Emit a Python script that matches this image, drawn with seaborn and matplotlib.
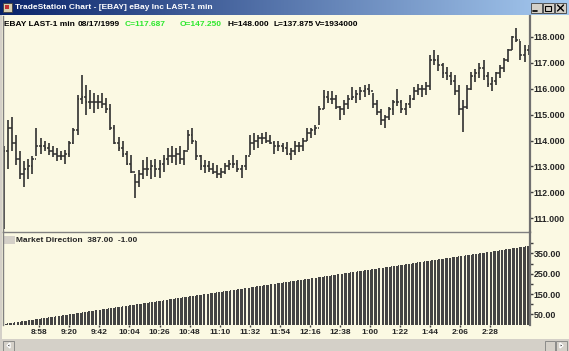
import numpy as np
import matplotlib
matplotlib.use("Agg")
import matplotlib.pyplot as plt
from matplotlib.colors import LinearSegmentedColormap
from matplotlib.patches import Rectangle, Polygon
import seaborn as sns

highs = [113.8, 114.8, 114.9, 114.2, 113.6, 113.2, 113.3, 113.4, 114.5, 114.1,
         114.0, 113.9, 113.8, 113.7, 113.6, 113.65, 114.0, 114.5, 115.75, 116.55,
         116.15, 115.95, 115.85, 115.75, 115.85, 115.65, 115.4, 114.6, 114.15, 114.0,
         113.6, 113.45, 112.7, 112.85, 113.25, 113.35, 113.25, 113.3, 113.25, 113.45,
         113.7, 113.8, 113.7, 113.8, 113.65, 114.4, 114.5, 114.0, 113.45, 113.25,
         113.2, 113.15, 113.05, 112.95, 113.15, 113.25, 113.45, 113.25, 113.05, 113.45,
         114.2, 114.3, 114.2, 114.3, 114.35, 114.2, 114.0, 114.0, 113.9, 113.95,
         113.7, 114.0, 113.95, 114.1, 114.5, 114.5, 114.6, 115.35, 115.95, 115.9,
         115.9, 115.75, 115.35, 115.55, 115.75, 116.05, 115.95, 116.05, 116.15, 116.2,
         115.85, 115.55, 115.2, 115.0, 115.3, 115.55, 116.0, 115.55, 115.45, 115.75,
         116.05, 116.2, 116.15, 116.25, 117.3, 117.5, 117.3, 117.0, 116.85, 116.65,
         116.55, 116.15, 115.55, 116.15, 116.65, 116.75, 117.0, 117.1, 116.65, 116.45,
         116.65, 116.9, 117.2, 117.55, 118.05, 118.35, 117.85, 117.7, 117.7]
lows = [110.6, 112.9, 113.6, 113.05, 112.5, 112.2, 112.5, 112.7, 113.4, 113.5,
        113.6, 113.45, 113.35, 113.2, 113.25, 113.1, 113.35, 113.85, 114.2, 115.4,
        115.0, 115.2, 115.05, 115.2, 115.25, 115.05, 114.4, 113.85, 113.6, 113.35,
        113.05, 112.75, 111.8, 112.2, 112.5, 112.65, 112.5, 112.6, 112.55, 112.8,
        113.05, 113.15, 113.05, 113.1, 113.05, 113.65, 113.85, 113.25, 112.85, 112.75,
        112.8, 112.7, 112.55, 112.55, 112.7, 112.85, 112.95, 112.8, 112.55, 112.85,
        113.45, 113.65, 113.7, 113.85, 113.9, 113.85, 113.5, 113.6, 113.55, 113.45,
        113.25, 113.45, 113.55, 113.6, 114.0, 114.1, 114.2, 114.6, 115.2, 115.45,
        115.4, 115.2, 114.8, 115.0, 115.2, 115.55, 115.45, 115.55, 115.7, 115.75,
        115.25, 115.0, 114.6, 114.5, 114.8, 115.0, 115.35, 115.05, 115.0, 115.25,
        115.55, 115.75, 115.7, 115.75, 115.95, 116.9, 116.7, 116.4, 116.35, 116.15,
        115.75, 115.0, 114.35, 115.2, 115.95, 116.25, 116.4, 116.35, 116.05, 115.9,
        116.15, 116.4, 116.65, 117.05, 117.5, 117.8, 117.1, 117.05, 117.3]
closes = [113.6, 114.5, 113.9, 113.3, 112.7, 112.9, 113.0, 113.3, 113.8, 113.8,
          113.7, 113.6, 113.5, 113.4, 113.4, 113.5, 113.9, 114.4, 115.6, 115.7,
          115.5, 115.5, 115.5, 115.5, 115.4, 115.2, 114.5, 113.9, 113.7, 113.5,
          113.1, 112.8, 112.4, 112.7, 112.9, 112.9, 113.0, 112.9, 113.1, 113.3,
          113.4, 113.4, 113.5, 113.3, 113.6, 114.2, 114.0, 113.4, 113.0, 113.0,
          112.9, 112.8, 112.7, 112.8, 113.0, 113.1, 113.1, 112.9, 113.0, 113.4,
          113.9, 114.0, 114.1, 114.1, 114.0, 113.9, 113.8, 113.8, 113.7, 113.5,
          113.6, 113.8, 113.8, 114.0, 114.3, 114.4, 114.5, 115.2, 115.7, 115.6,
          115.6, 115.3, 115.2, 115.4, 115.6, 115.7, 115.8, 115.9, 116.0, 115.9,
          115.4, 115.1, 114.8, 114.9, 115.2, 115.5, 115.5, 115.2, 115.4, 115.6,
          115.9, 116.0, 116.0, 116.1, 117.1, 117.1, 116.9, 116.6, 116.5, 116.3,
          115.9, 115.2, 115.3, 116.0, 116.5, 116.6, 116.8, 116.5, 116.2, 116.3,
          116.6, 116.8, 117.1, 117.5, 118.0, 117.9, 117.3, 117.5, 117.687]
first_open = 112.0

# Market Direction just counts the 1-minute bars (last value 387)
market_direction = np.arange(1, 388)

time_labels = ["8:58", "9:20", "9:42", "10:04", "10:26", "10:48", "11:10", "11:32",
               "11:54", "12:16", "12:38", "1:00", "1:22", "1:44", "2:06", "2:28"]
time_ticks = [28, 50, 72, 94, 116, 138, 160, 182, 204, 226, 248, 270, 292, 314, 336, 358]
price_ticks = [111, 112, 113, 114, 115, 116, 117, 118]
md_ticks = [50, 150, 250, 350]
md_minor = [100, 200, 300, 400]

bar_minutes = 2 + 3 * np.arange(len(highs))   # centre minute of each 3-min bar
opens = [first_open] + closes[:-1]
md_minutes = np.arange(1, len(market_direction) + 1)

W, H = 569, 351
CREAM = "#fbf9e3"
GRAY = "#d4d0c8"
LINE = "#808080"
GREEN = "#2ee82e"
BAR = "#303030"

sns.set_style("white")
plt.rcParams["font.family"] = ["Liberation Sans", "DejaVu Sans"]
plt.rcParams["font.weight"] = "bold"


def box(x0, y0, x1, y1):
    return [x0 / W, 1 - y1 / H, (x1 - x0) / W, (y1 - y0) / H]


fig = plt.figure(figsize=(W / 100, H / 100), dpi=100)
fig.patch.set_facecolor(CREAM)

# window chrome drawn in pixel coordinates
bg = fig.add_axes([0, 0, 1, 1])
bg.axis("off")
cmap = LinearSegmentedColormap.from_list("titlebar", ["#0a246a", "#a6caf0"])
bg.imshow(np.linspace(0, 1, 256)[None, :], cmap=cmap, extent=(0, W, 15, 0), aspect="auto")
bg.set_xlim(0, W)
bg.set_ylim(H, 0)
bg.add_patch(Rectangle((3, 3), 9, 9, fc="#d8d0b0", ec="#404040", lw=0.6))
bg.add_patch(Rectangle((5, 5), 4, 4, fc="#c03030", ec="none"))
bg.text(15, 7.8, "TradeStation Chart - [EBAY] eBay Inc LAST-1 min", color="white",
        fontsize=6.0, va="center", fontweight="bold")
for x0 in (531, 543, 555):
    bg.add_patch(Rectangle((x0, 3), 11, 10, fc=GRAY, ec="#404040", lw=0.6))
bg.plot([533.5, 537.5], [11, 11], color="black", lw=1.2)
bg.add_patch(Rectangle((545.5, 5.5), 6, 5.5, fc="none", ec="black", lw=0.8))
bg.plot([557.5, 563.5], [5, 11], color="black", lw=1)
bg.plot([557.5, 563.5], [11, 5], color="black", lw=1)

# left frame and scrollbar
bg.add_patch(Rectangle((0, 15), 2.5, H - 15, fc=GRAY, ec="none"))
bg.add_patch(Rectangle((0, 339), W, 12, fc=GRAY, ec="none"))
bg.add_patch(Rectangle((3, 341), 11, 9.5, fc=GRAY, ec="#808080", lw=0.6))
bg.add_patch(Polygon([[7, 345.5], [10, 343], [10, 348]], closed=True, fc="black"))
bg.add_patch(Rectangle((545, 341), 10, 9.5, fc=GRAY, ec="#808080", lw=0.6))
bg.add_patch(Rectangle((556, 341), 11, 9.5, fc=GRAY, ec="#808080", lw=0.6))
bg.add_patch(Polygon([[563, 345.5], [560, 343], [560, 348]], closed=True, fc="black"))

# price header
for txt, x, col in [("EBAY LAST-1 min", 4, "black"), ("08/17/1999", 78, "black"),
                    ("C=117.687", 125, GREEN), ("O=147.250", 180, GREEN),
                    ("H=148.000", 228, "black"), ("L=137.875", 274, "black"),
                    ("V=1934000", 315, "black")]:
    bg.text(x, 24, txt, color=col, fontsize=6.0, va="center", fontweight="bold")

# indicator header
bg.add_patch(Rectangle((3, 235.5), 12, 8.5, fc=GRAY, ec="none"))
bg.text(16, 240, "Market Direction  387.00  -1.00", fontsize=6.0, va="center",
        fontweight="bold")

# price panel: OHLC bars
ax_p = fig.add_axes(box(3, 16, 530, 232))
ax_p.patch.set_alpha(0)
ax_p.vlines(bar_minutes, lows, highs, color=BAR, lw=1.2)
ax_p.hlines(opens, bar_minutes - 1.3, bar_minutes, color=BAR, lw=1.1)
ax_p.hlines(closes, bar_minutes, bar_minutes + 1.3, color=BAR, lw=1.1)
ax_p.set_xlim(1.5, 387)
ax_p.set_ylim(110.47, 118.81)
ax_p.set_xticks([])
ax_p.yaxis.tick_right()
ax_p.set_yticks(price_ticks)
ax_p.set_yticklabels([f"{v:.3f}" for v in price_ticks])
ax_p.tick_params(axis="y", right=True, direction="out", length=2, width=1,
                 color="#404040", pad=0.8, labelsize=6.4)
ax_p.spines["top"].set_visible(False)
ax_p.spines["left"].set_color(LINE)
ax_p.spines["left"].set_linewidth(1)
ax_p.spines["right"].set_color("#707070")
ax_p.spines["right"].set_linewidth(1.6)
ax_p.spines["bottom"].set_color(LINE)
ax_p.spines["bottom"].set_linewidth(1)

# Market Direction panel
ax_m = fig.add_axes(box(3, 232, 530, 324.5))
ax_m.patch.set_alpha(0)
sns.barplot(x=md_minutes, y=market_direction, native_scale=True, color="#444444",
            width=0.7, linewidth=0, saturation=1, errorbar=None, ax=ax_m)
ax_m.set_xlim(1.5, 387)
ax_m.set_ylim(0, 455)
ax_m.set_xlabel("")
ax_m.set_ylabel("")
ax_m.yaxis.tick_right()
ax_m.set_yticks(md_ticks)
ax_m.set_yticklabels([f"{v:.2f}" for v in md_ticks])
ax_m.set_yticks(md_minor, minor=True)
ax_m.tick_params(axis="y", which="both", right=True, direction="out", length=2,
                 width=1, color="#404040", pad=0.8, labelsize=6.4)
ax_m.set_xticks(time_ticks)
ax_m.set_xticklabels(time_labels)
ax_m.tick_params(axis="x", bottom=True, direction="out", length=1.5, width=1,
                 color="#404040", pad=2, labelsize=6.0)
ax_m.spines["top"].set_visible(False)
ax_m.spines["bottom"].set_visible(False)
ax_m.spines["left"].set_color(LINE)
ax_m.spines["left"].set_linewidth(1)
ax_m.spines["right"].set_color("#707070")
ax_m.spines["right"].set_linewidth(1.6)

fig.savefig("out.png", dpi=100, facecolor=fig.get_facecolor())
